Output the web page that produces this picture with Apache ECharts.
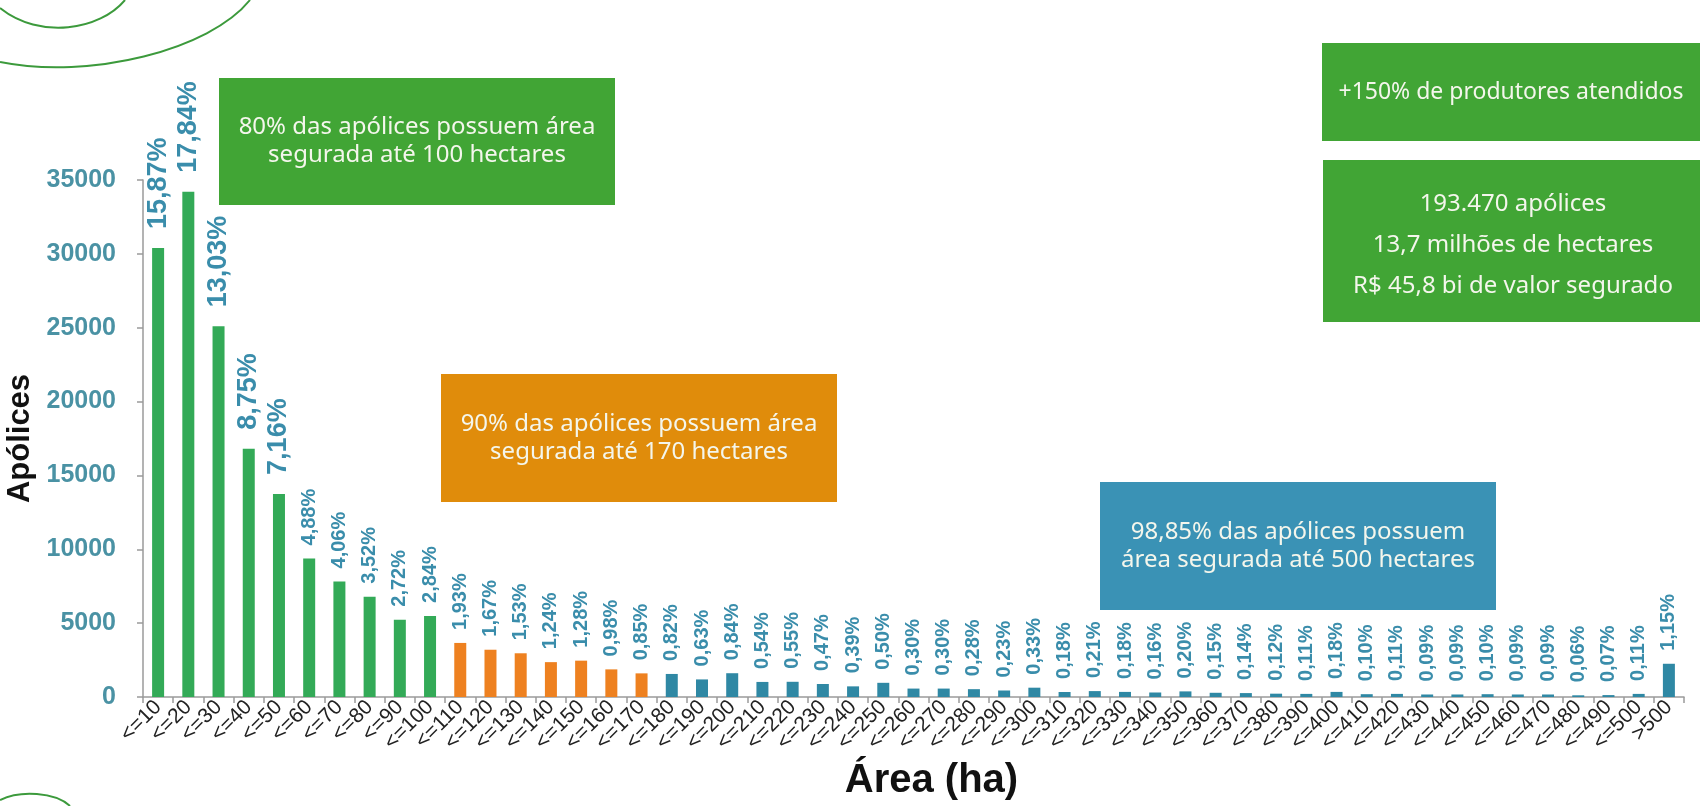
<!DOCTYPE html>
<html>
<head>
<meta charset="utf-8">
<script src="https://cdn.jsdelivr.net/npm/echarts@6/dist/echarts.min.js"></script>
<style>
html,body{margin:0;padding:0;background:#fff;}
#chart{width:1700px;height:806px;}
</style>
</head>
<body>
<div id="chart"></div>
<script>
// ---- data ----
const categories = ['<=10','<=20','<=30','<=40','<=50','<=60','<=70','<=80','<=90','<=100',
  '<=110','<=120','<=130','<=140','<=150','<=160','<=170','<=180','<=190','<=200',
  '<=210','<=220','<=230','<=240','<=250','<=260','<=270','<=280','<=290','<=300',
  '<=310','<=320','<=330','<=340','<=350','<=360','<=370','<=380','<=390','<=400',
  '<=410','<=420','<=430','<=440','<=450','<=460','<=470','<=480','<=490','<=500','>500'];
const apolices = [30400,34200,25100,16800,13750,9380,7820,6790,5230,5490,
  3660,3200,2960,2360,2460,1870,1600,1560,1190,1610,
  1020,1030,880,720,960,570,570,530,440,630,
  340,400,345,305,380,285,265,225,210,345,
  190,210,170,170,190,170,170,115,130,210,2250];
const percentLabels = ['15,87%','17,84%','13,03%','8,75%','7,16%','4,88%','4,06%','3,52%','2,72%','2,84%',
  '1,93%','1,67%','1,53%','1,24%','1,28%','0,98%','0,85%','0,82%','0,63%','0,84%',
  '0,54%','0,55%','0,47%','0,39%','0,50%','0,30%','0,30%','0,28%','0,23%','0,33%',
  '0,18%','0,21%','0,18%','0,16%','0,20%','0,15%','0,14%','0,12%','0,11%','0,18%',
  '0,10%','0,11%','0,09%','0,09%','0,10%','0,09%','0,09%','0,06%','0,07%','0,11%','1,15%'];
const yTicks = [0,5000,10000,15000,20000,25000,30000,35000];
const boxTexts = {
  box80: '80% das apólices possuem área\nsegurada até 100 hectares',
  box90: '90% das apólices possuem área\nsegurada até 170 hectares',
  box98: '98,85% das apólices possuem\nárea segurada até 500 hectares',
  produtores: '+150% de produtores atendidos',
  resumo: '193.470 apólices\n13,7 milhões de hectares\nR$ 45,8 bi de valor segurado'
};
const greenUntil = 10;   // first 10 classes (<=100 ha)
const orangeUntil = 17;  // up to <=170 ha
const bigLabelCount = 5;

// ---- styles ----
const GREEN_BAR = '#33aa57', ORANGE_BAR = '#ee8120', BLUE_BAR = '#2f88a4';
const LABEL_COLOR = '#3a8dab';
const BOX_GREEN = '#41a535', BOX_ORANGE = '#e08c0b', BOX_BLUE = '#3a92b5';
const BOX_FONT = '"Noto Sans", "Open Sans", sans-serif';
const AXIS_FONT = 'Arial, "Liberation Sans", sans-serif';

const chart = echarts.init(document.getElementById('chart'));

function boxGroup(x, y, w, h, color, text, fontSize, lineHeight, dy, tx) {
  return {
    type: 'group', x: x, y: y,
    children: [
      {type: 'rect', shape: {x: 0, y: 0, width: w, height: h}, style: {fill: color}},
      {type: 'text', x: tx != null ? tx : w / 2, y: h / 2 + (dy || 0),
       style: {text: text, fill: '#f4f6ec', font: fontSize + 'px ' + BOX_FONT,
         align: 'center', verticalAlign: 'middle', lineHeight: lineHeight}}
    ]
  };
}

const option = {
  animation: false,
  backgroundColor: '#ffffff',
  grid: {left: 143, right: 16, top: 180, bottom: 109, containLabel: false, outerBoundsMode: 'none'},
  xAxis: {
    type: 'category',
    data: categories,
    axisLine: {lineStyle: {color: '#9a9a9a', width: 1.5}},
    axisTick: {show: true, length: 6, lineStyle: {color: '#9a9a9a', width: 1.5}},
    axisLabel: {rotate: 45, interval: 0, fontSize: 21, color: '#222', fontFamily: AXIS_FONT, margin: 7},
    name: 'Área (ha)', nameLocation: 'middle', nameGap: 60,
    nameTextStyle: {fontSize: 40, fontWeight: 'bold', color: '#111', fontFamily: AXIS_FONT, padding: [0, 0, 0, 36]}
  },
  yAxis: {
    type: 'value', min: yTicks[0], max: yTicks[yTicks.length - 1], interval: yTicks[1] - yTicks[0],
    splitLine: {show: false},
    axisLine: {show: true, lineStyle: {color: '#9a9a9a', width: 1.5}},
    axisTick: {show: true, length: 6, lineStyle: {color: '#9a9a9a', width: 1.5}},
    axisLabel: {fontSize: 25, fontWeight: 'bold', color: '#4a92a4', margin: 27, fontFamily: AXIS_FONT,
      formatter: v => String(v)},
    name: 'Apólices', nameLocation: 'middle', nameGap: 106,
    nameTextStyle: {fontSize: 31, fontWeight: 'bold', color: '#111', fontFamily: AXIS_FONT}
  },
  series: [{
    type: 'bar',
    barWidth: 12,
    data: apolices.map((v, i) => ({
      value: v,
      label: i < bigLabelCount ? {fontSize: 27, fontWeight: 'bold', distance: 19} : {fontSize: 20, fontWeight: 'bold', distance: 13}
    })),
    itemStyle: {
      color: p => p.dataIndex < greenUntil ? GREEN_BAR : (p.dataIndex < orangeUntil ? ORANGE_BAR : BLUE_BAR)
    },
    label: {
      show: true, position: 'top', rotate: 90, align: 'left', verticalAlign: 'middle', distance: 13,
      color: LABEL_COLOR, fontFamily: AXIS_FONT,
      formatter: p => percentLabels[p.dataIndex]
    }
  }],
  graphic: [
    boxGroup(219, 78, 396, 127, BOX_GREEN, boxTexts.box80, 24, 28),
    boxGroup(441, 374, 396, 128, BOX_ORANGE, boxTexts.box90, 24, 28),
    boxGroup(1100, 482, 396, 128, BOX_BLUE, boxTexts.box98, 24, 28),
    boxGroup(1322, 43, 400, 98, BOX_GREEN, boxTexts.produtores, 23, 28, 0, 189),
    boxGroup(1323, 160, 400, 162, BOX_GREEN, boxTexts.resumo, 24, 41, 4, 190),
    // decorative arcs
    {type: 'bezierCurve', shape: {x1: 0, y1: 8, x2: 125, y2: 0, cpx1: 40, cpy1: 40, cpx2: 100, cpy2: 30},
     style: {stroke: '#3c9a3c', lineWidth: 2, fill: null}},
    {type: 'bezierCurve', shape: {x1: 0, y1: 62, x2: 250, y2: 0, cpx1: 90, cpy1: 80, cpx2: 210, cpy2: 50},
     style: {stroke: '#3c9a3c', lineWidth: 2, fill: null}},
    {type: 'bezierCurve', shape: {x1: 0, y1: 800, x2: 70, y2: 806, cpx1: 20, cpy1: 790, cpx2: 55, cpy2: 792},
     style: {stroke: '#3c9a3c', lineWidth: 2, fill: null}}
  ]
};
chart.setOption(option);
</script>
</body>
</html>
